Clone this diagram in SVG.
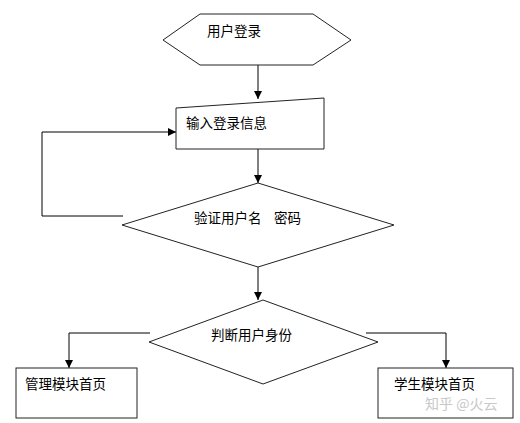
<svg xmlns="http://www.w3.org/2000/svg" width="520" height="423" viewBox="0 0 520 423">
<style>
.s{fill:#fff;stroke:#222;stroke-width:1}
.c{fill:none;stroke:#000;stroke-width:1}
.t{font-family:"Noto Sans CJK SC","Liberation Sans",sans-serif;font-size:13.5px;fill:#000}
.w{font-family:"Noto Sans CJK SC","Liberation Sans",sans-serif;font-size:14px;fill:#c8c8c8}
</style>
<defs>
<marker id="a" markerWidth="8" markerHeight="8" refX="8" refY="4" orient="auto" markerUnits="userSpaceOnUse">
<path d="M0,0 L8,4 L0,8 Z" fill="#000"/>
</marker>
</defs>
<rect width="520" height="423" fill="#fff"/>
<g id="connectors">
<path class="c" d="M258,65 V99" marker-end="url(#a)"/>
<path class="c" d="M258,149 V183" marker-end="url(#a)"/>
<path class="c" d="M123,216 H42 V132 H176" marker-end="url(#a)"/>
<path class="c" d="M258,267 V300" marker-end="url(#a)"/>
<path class="c" d="M150,333 H69 V368" marker-end="url(#a)"/>
<path class="c" d="M366,333 H446 V368" marker-end="url(#a)"/>
</g>
<g id="start">
<polygon class="s" points="163,40 200,14 313,14 351,40 313,65 200,65"/>
<text class="t" x="207" y="36">用户登录</text>
</g>
<g id="input">
<polygon class="s" points="176,108 324,98 324,149 176,149"/>
<text class="t" x="186" y="128">输入登录信息</text>
</g>
<g id="verify">
<polygon class="s" points="258,183 394,225 258,267 122,225"/>
<text class="t" x="194" y="223">验证用户名 <tspan x="274">密码</tspan></text>
</g>
<g id="judge">
<polygon class="s" points="263,300 378,342 263,384 149,342"/>
<text class="t" x="211" y="340">判断用户身份</text>
</g>
<g id="admin">
<rect class="s" x="16" y="368" width="121" height="50"/>
<text class="t" x="25" y="389">管理模块首页</text>
</g>
<g id="student">
<rect class="s" x="378" y="368" width="135" height="50"/>
<text class="t" x="394" y="389">学生模块首页</text>
</g>
<text class="w" x="425" y="409">知乎 @火云</text>
</svg>
